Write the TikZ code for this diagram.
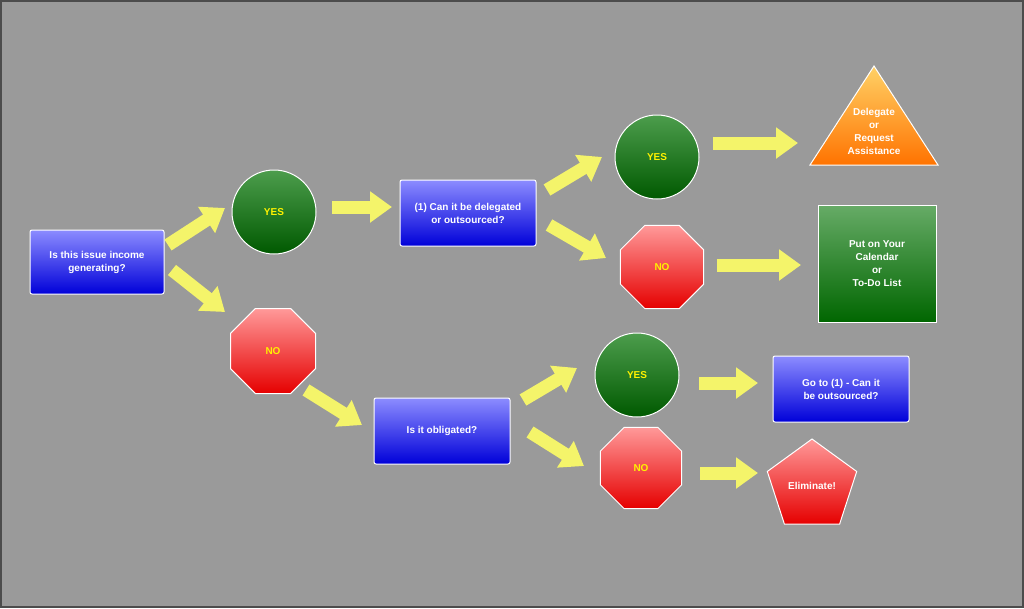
\documentclass[tikz,border=0pt]{standalone}
\usepackage{fontspec}
\setmainfont{Liberation Sans}
\usetikzlibrary{shapes.geometric,arrows.meta}
\definecolor{bgGray}{HTML}{9A9A9A}
\definecolor{arrYellow}{HTML}{F4F46A}
\begin{document}
\begin{tikzpicture}[x=1pt,y=-1pt,
    txt/.style={font=\fontsize{10}{13}\selectfont\bfseries, align=center},
    qBox/.style={txt, draw=white, line width=1pt, rounded corners=2pt, text=white,
      top color=blue!45!white, bottom color=blue!85!black, minimum width=136pt, minimum height=66pt},
    yesC/.style={txt, circle, draw=white, line width=1pt, minimum size=84pt, text=yellow,
      top color=green!45!black!70!white, bottom color=green!35!black},
    noOct/.style={txt, regular polygon, regular polygon sides=8, draw=white, line width=1pt,
      minimum size=92pt, inner sep=0pt, text=yellow, top color=red!40!white, bottom color=red!90!black},
    yArrow/.style={arrYellow, line width=13pt, -{Triangle[width=30pt,length=22pt]}}]
\useasboundingbox (0,0) rectangle (1024,608);
\fill[bgGray] (0,0) rectangle (1024,608);
\draw[black!70, line width=1.5pt] (1,1) rectangle (1023,607);
% questions
\node[qBox, minimum width=134pt, minimum height=64pt] (income) at (97,262) {Is this issue income\\generating?};
\node[qBox] (deleg) at (468,213) {(1) Can it be delegated\\or outsourced?};
\node[qBox] (oblig) at (442,431) {Is it obligated?};
\node[qBox] (goto) at (841,389) {Go to (1) - Can it\\be outsourced?};
% answers
\node[yesC] (yesA) at (274,212) {YES};
\node[noOct] (noA) at (273,351) {NO};
\node[yesC] (yesB) at (657,157) {YES};
\node[noOct, minimum size=90pt] (noB) at (662,267) {NO};
\node[yesC] (yesC) at (637,375) {YES};
\node[noOct, minimum size=88pt] (noC) at (641,468) {NO};
% outcomes
\draw[draw=white, line width=1pt, top color=orange!60!yellow!60!white, bottom color=orange!90!red]
  (874,66) -- (938,165) -- (810,165) -- cycle;
\node[txt, text=white] (request) at (874,131) {Delegate\\or\\Request\\Assistance};
\node[txt, draw=white, line width=1pt, text=white, minimum width=118pt, minimum height=117pt,
  top color=green!45!black!60!white, bottom color=green!40!black] (calendar) at (877,264)
  {Put on Your\\Calendar\\or\\To-Do List};
\node[txt, regular polygon, regular polygon sides=5, draw=white, line width=1pt, text=white,
  minimum size=94pt, inner sep=0pt, top color=red!40!white, bottom color=red!90!black]
  (elim) at (812,486) {Eliminate!};
% arrows
\foreach \xa/\ya/\xb/\yb in {168/245/225/208, 172/270/225/312, 332/207/392/207,
    306/390/362/425, 547/190/602/157, 549/225/606/258, 713/143/798/143,
    717/265/801/265, 523/400/577/368, 530/432/584/466, 699/383/758/383, 700/473/758/473}
  \draw[yArrow] (\xa,\ya) -- (\xb,\yb);
\end{tikzpicture}
\end{document}
